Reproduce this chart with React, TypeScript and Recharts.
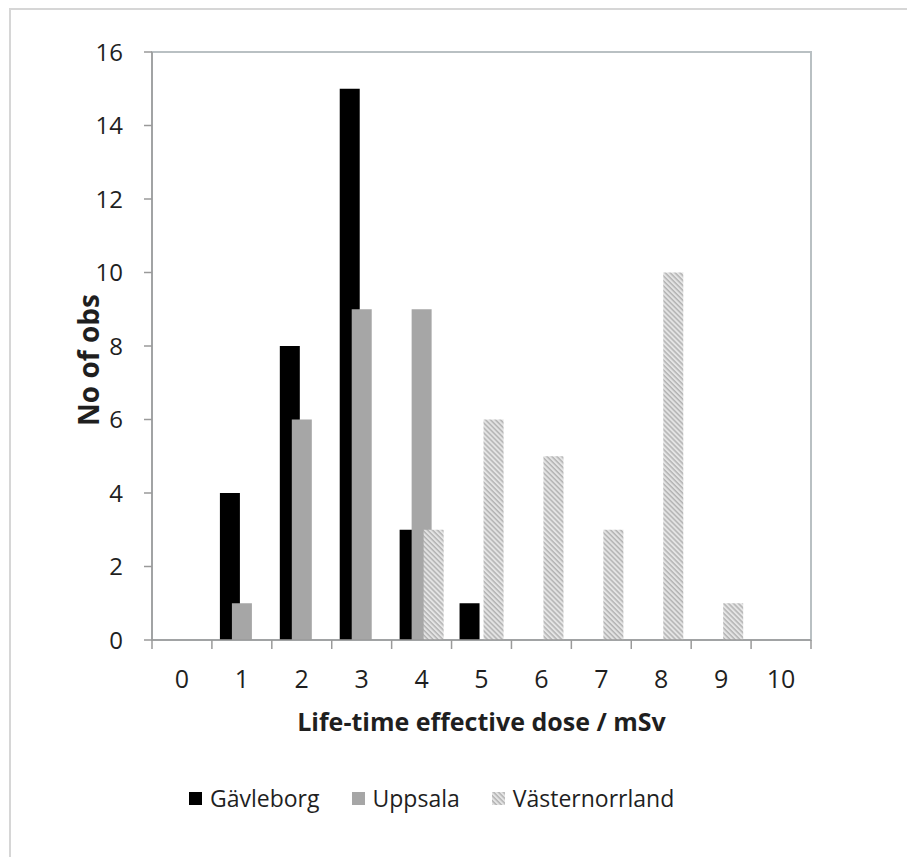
import React from "react";
import { BarChart, Bar, XAxis, YAxis, Label, ReferenceArea } from "recharts";

const DOSES = ["0", "1", "2", "3", "4", "5", "6", "7", "8", "9", "10"];
const GAVLEBORG = [0, 4, 8, 15, 3, 1, 0, 0, 0, 0, 0];
const UPPSALA = [0, 1, 6, 9, 9, 0, 0, 0, 0, 0, 0];
const VASTERNORRLAND = [0, 0, 0, 0, 3, 6, 5, 3, 10, 1, 0];
const Y_TICKS = [0, 2, 4, 6, 8, 10, 12, 14, 16];

const SERIES = [
  { key: "gavleborg", name: "Gävleborg", fill: "#000000" },
  { key: "uppsala", name: "Uppsala", fill: "#a6a6a6" },
  { key: "vasternorrland", name: "Västernorrland", fill: "url(#hatch)" },
];

const FONT = "'Open Sans', sans-serif";
const TEXT = "#1f1f1f";
const AXIS = "#9a9a9a";
const FRAME = "#b9c0c3";

const data = DOSES.map((d, i) => ({
  dose: d,
  gavleborg: GAVLEBORG[i],
  uppsala: UPPSALA[i],
  vasternorrland: VASTERNORRLAND[i],
}));

// Excel-style: tick marks sit between categories, labels in the middle
function DoseTick(props: any) {
  const { x, y, payload, index } = props;
  const half = payload?.offset || 30;
  return (
    <g>
      <line x1={x - half} x2={x - half} y1={y} y2={y + 9} stroke={AXIS} strokeWidth={1.5} />
      {index === DOSES.length - 1 && (
        <line x1={x + half} x2={x + half} y1={y} y2={y + 9} stroke={AXIS} strokeWidth={1.5} />
      )}
      <text x={x} y={y + 48} textAnchor="middle" fontSize={25} fill={TEXT} fontFamily={FONT}>
        {payload.value}
      </text>
    </g>
  );
}

function HatchDefs({ id }: { id: string }) {
  return (
    <defs>
      <pattern id={id} width="3.5" height="3.5" patternUnits="userSpaceOnUse" patternTransform="rotate(-45)">
        <rect width="3.5" height="3.5" fill="#e4e4e4" />
        <line x1="1" y1="0" x2="1" y2="3.5" stroke="#b3b3b3" strokeWidth="1.5" />
      </pattern>
    </defs>
  );
}

function Swatch({ fill, hatch }: { fill: string; hatch?: boolean }) {
  return (
    <svg width={13} height={13} style={{ display: "block" }}>
      {hatch && <HatchDefs id="hatch-legend" />}
      <rect width={13} height={13} fill={hatch ? "url(#hatch-legend)" : fill} />
    </svg>
  );
}

export default function App() {
  return (
    <div style={{ position: "absolute", left: 0, top: 0, width: 907, height: 857, background: "#fff", fontFamily: FONT }}>
      <div
        style={{
          position: "absolute", left: 9, top: 8, right: 0, bottom: 0,
          borderTop: "2px solid #d6d6d6", borderLeft: "2px solid #d6d6d6",
        }}
      />
      <BarChart
        width={907}
        height={857}
        data={data}
        margin={{ top: 52, right: 96, left: 92, bottom: 157 }}
        barSize={20}
        barGap={-8}
        style={{ position: "absolute", left: 0, top: 0 }}
      >
        <HatchDefs id="hatch" />
        {/* plot-area border; left and bottom edges get covered by the axes */}
        <ReferenceArea
          x1={DOSES[0]}
          x2={DOSES[DOSES.length - 1]}
          y1={0}
          y2={16}
          fill="none"
          fillOpacity={0}
          stroke={FRAME}
          strokeWidth={2}
          ifOverflow="visible"
        />
        <XAxis
          dataKey="dose"
          height={60}
          interval={0}
          tickSize={0}
          tickMargin={0}
          tickLine={false}
          axisLine={{ stroke: AXIS, strokeWidth: 1.5 }}
          tick={<DoseTick />}
        >
          <Label
            content={({ viewBox }: any) => (
              <text
                x={viewBox.x + viewBox.width / 2}
                y={731}
                textAnchor="middle"
                fontSize={25}
                fontWeight="bold"
                fill={TEXT}
                fontFamily={FONT}
              >
                Life-time effective dose  / mSv
              </text>
            )}
          />
        </XAxis>
        <YAxis
          domain={[0, 16]}
          ticks={Y_TICKS}
          width={60}
          tickSize={8}
          tickMargin={21}
          interval={0}
          tick={{ fontSize: 24, fill: TEXT, fontFamily: FONT }}
          tickLine={{ stroke: AXIS, strokeWidth: 1.5 }}
          axisLine={{ stroke: AXIS, strokeWidth: 1.5 }}
        >
          <Label
            content={({ viewBox }: any) => {
              const cx = viewBox.x - 4;
              const cy = viewBox.y + viewBox.height / 2 + 14;
              return (
                <text
                  x={cx}
                  y={cy}
                  transform={`rotate(-90, ${cx}, ${cy})`}
                  textAnchor="middle"
                  dominantBaseline="central"
                  fontSize={28}
                  fontWeight="bold"
                  fill={TEXT}
                  fontFamily={FONT}
                >
                  No of obs
                </text>
              );
            }}
          />
        </YAxis>
        {SERIES.map((s) => (
          <Bar key={s.key} dataKey={s.key} name={s.name} fill={s.fill} isAnimationActive={false} />
        ))}
      </BarChart>
      <div style={{ position: "absolute", left: 189, top: 783, display: "flex", alignItems: "center", fontSize: 23, color: TEXT }}>
        {SERIES.map((s, i) => (
          <div key={s.key} style={{ display: "flex", alignItems: "center", marginRight: i < SERIES.length - 1 ? 32 : 0 }}>
            <Swatch fill={s.fill} hatch={s.key === "vasternorrland"} />
            <span style={{ marginLeft: 8, lineHeight: "30px" }}>{s.name}</span>
          </div>
        ))}
      </div>
    </div>
  );
}
